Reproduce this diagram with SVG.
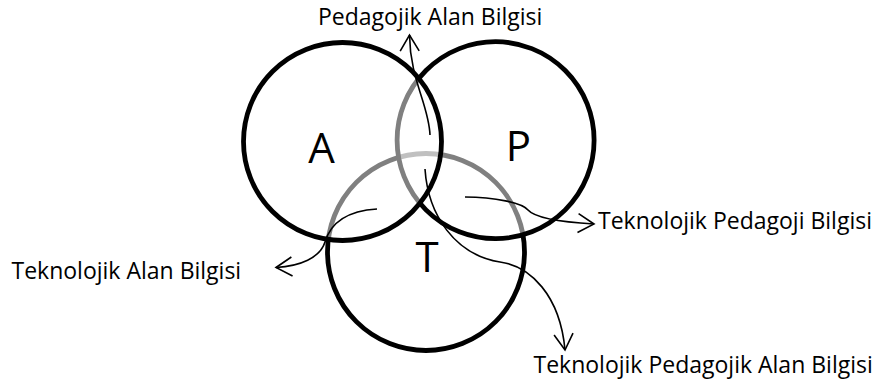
<svg xmlns="http://www.w3.org/2000/svg" width="878" height="385" viewBox="0 0 878 385">
  <style>
    .ring { stroke: #000; stroke-width: 4.8; }
    .veil { fill: #fff; fill-opacity: 0.5; }
    .letter { font-family: "Open Sans", "Noto Sans", sans-serif; font-size: 42px; fill: #000; text-anchor: middle; }
    .label { font-family: "Open Sans", "Noto Sans", sans-serif; font-size: 23px; fill: #000; }
    .link { fill: none; stroke: #000; stroke-width: 1.6; marker-end: url(#open-arrow); }
  </style>
  <defs>
    <marker id="open-arrow" markerUnits="userSpaceOnUse" orient="auto" overflow="visible" refX="0" refY="0">
      <path d="M-16,-9.5 L0,0 L-16,9.5" fill="none" stroke="#000" stroke-width="1.6" stroke-linejoin="miter"/>
    </marker>
  </defs>

  <rect width="878" height="385" fill="#fff"/>

  <!-- Technology circle (bottom layer) -->
  <g id="node-T">
    <circle class="ring" cx="426" cy="252" r="98.5" fill="#fff"/>
    <text class="letter" x="427" y="272">T</text>
  </g>

  <!-- Pedagogy circle, its half-transparent fill greys the T arc beneath -->
  <g id="node-P">
    <circle class="ring veil" cx="495.6" cy="140.2" r="98.5"/>
    <text class="letter" x="518.5" y="161">P</text>
  </g>

  <!-- Content circle (top layer) -->
  <g id="node-A">
    <circle class="ring veil" cx="342.5" cy="141.5" r="99"/>
    <text class="letter" x="321.5" y="163">A</text>
  </g>

  <!-- Pointers from each overlap to its name -->
  <g id="connectors">
    <path class="link" d="M430,135 C429,105 410,80 409.5,35"/>
    <path class="link" d="M425,169 C428,215 455,255 500,262 C530,266 560,295 565,350"/>
    <path class="link" d="M465,197 C495,197 522,203 528,210 C535,218 560,222 594,224"/>
    <path class="link" d="M377,209 C345,211 330,225 325,242 C320,258 300,266 276,267.5"/>
  </g>

  <g id="label-PAB">
    <text class="label" x="318" y="24.5">Pedagojik Alan Bilgisi</text>
  </g>
  <g id="label-TPB">
    <text class="label" x="598" y="229">Teknolojik Pedagoji Bilgisi</text>
  </g>
  <g id="label-TPAB">
    <text class="label" x="533.5" y="373">Teknolojik Pedagojik Alan Bilgisi</text>
  </g>
  <g id="label-TAB">
    <text class="label" x="11.5" y="279">Teknolojik Alan Bilgisi</text>
  </g>
</svg>
